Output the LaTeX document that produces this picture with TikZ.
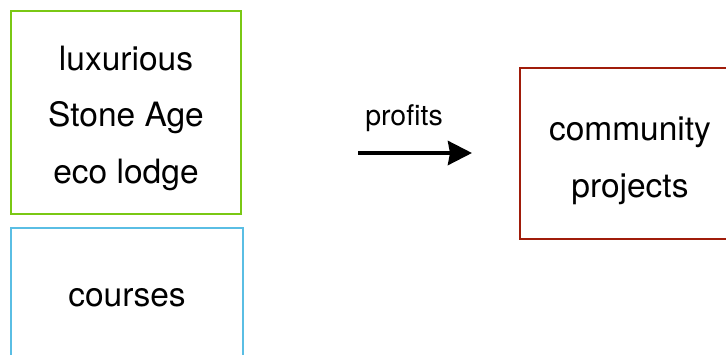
\documentclass[tikz,border=0pt]{standalone}
\usepackage{fontspec}
\setmainfont{TeX Gyre Heros}
\usetikzlibrary{arrows.meta}
\definecolor{lodgegreen}{RGB}{122,200,20}
\definecolor{courseblue}{RGB}{90,190,228}
\definecolor{projred}{RGB}{160,28,10}

\begin{document}
\begin{tikzpicture}[x=1pt, y=-1pt, box/.style={draw, rectangle, line width=2pt, align=center, font=\fontsize{33.5}{56.5}\selectfont, inner sep=0pt}, lbl/.style={font=\fontsize{28.5}{30}\selectfont}, n/.style={-{Stealth[length=24pt, width=24pt, inset=2pt]}, line width=4pt}]
            \useasboundingbox (0,0) rectangle (726,354);
            % nodes
            \node[box, draw=lodgegreen, minimum width=230pt, minimum height=203pt, text height=141pt, text depth=0pt] (lodge) at (126,112.5) {luxurious\\Stone Age\\eco lodge};
            \node[box, draw=courseblue, minimum width=232pt, minimum height=140pt] (courses) at (127,298) {courses};
            \node[box, draw=projred, minimum width=220pt, minimum height=171pt, text height=87pt, text depth=0pt] (projects) at (630,153.5) {community\\projects};
            \coordinate (from) at (358,153);
            \coordinate (to) at (472,153);
            \node[lbl] (profits) at (404,118) {profits};
            % edges
            \draw [n] (from) -- (to);
        \end{tikzpicture}
\end{document}
